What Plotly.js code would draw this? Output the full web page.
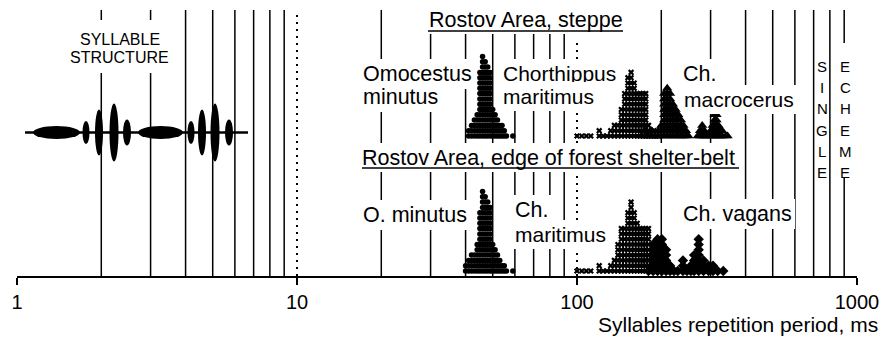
<!DOCTYPE html>
<html><head><meta charset="utf-8">
<script src="https://cdn.plot.ly/plotly-3.0.1.min.js"></script>
<style>html,body{margin:0;padding:0;background:#fff}#chart{width:882px;height:341px}</style>
</head><body><div id="chart"></div>
<script>
// ---------------- data ----------------
const tickVals = [1, 10, 100, 1000];
const tickText = ['1', '10', '100', '1000'];
const solidLines = [2, 3, 4, 5, 6, 7, 8, 9, 20, 30, 40, 50, 60, 70, 80, 90, 200, 300, 400, 500, 600, 700, 800];
const dottedFull = [10];
const dottedLower = [100];
const echemeLine = [900];

// Rostov Area, steppe
const omoTopPeriod = [41, 42, 43, 44, 45, 46, 47, 48, 49, 50, 51, 52, 53, 54, 55, 56, 57, 58, 59];
const omoTopCount  = [2, 3, 4, 5, 13, 16, 15, 14, 13, 6, 5, 4, 3, 3, 2, 1, 0, 0, 1];
const marTopPeriod = [100, 104, 108, 112, 116, 120, 124, 128, 132, 136, 140, 144, 148, 152, 156, 160, 164, 168, 172, 176, 180, 184, 188, 192, 196];
const marTopCount  = [1, 1, 1, 1, 0, 2, 1, 1, 2, 3, 3, 6, 9, 12, 13, 11, 9, 9, 9, 9, 3, 2, 2, 1, 1];
const macPeriod = [170, 175, 180, 185, 190, 195, 200, 205, 210, 215, 220, 225, 230, 235, 240, 245, 250, 270, 275, 280, 285, 290, 295, 300, 305, 310, 315, 320, 325, 330, 340, 345];
const macCount  = [1, 2, 1, 2, 1, 2, 3, 9, 10, 9, 7, 6, 5, 4, 3, 2, 1, 1, 2, 3, 2, 1, 1, 2, 3, 5, 5, 3, 2, 2, 1, 1];

// Rostov Area, edge of forest shelter-belt
const omoBotPeriod = [40, 41, 42, 43, 44, 45, 46, 47, 48, 49, 50, 51, 52, 53, 54, 55, 56, 57, 58, 59];
const omoBotCount  = [2, 3, 4, 4, 6, 12, 16, 15, 14, 13, 6, 5, 4, 3, 2, 2, 1, 0, 0, 1];
const marBotPeriod = [100, 104, 108, 112, 116, 120, 124, 128, 132, 136, 140, 144, 148, 152, 156, 160, 164, 168, 172, 176, 180, 184, 188, 192, 196];
const marBotCount  = [1, 1, 1, 1, 0, 2, 1, 1, 2, 3, 6, 9, 9, 12, 14, 12, 10, 9, 9, 9, 9, 4, 2, 2, 1];
const vagPeriod = [180, 187, 194, 201, 208, 215, 222, 229, 239, 247, 255, 262, 272, 283, 295, 306, 318, 333];
const vagCount  = [1, 6, 7, 7, 5, 2, 1, 1, 3, 1, 2, 4, 7, 3, 2, 2, 1, 1];

const singleLetters = ['S', 'I', 'N', 'G', 'L', 'E'];
const echemeLetters = ['E', 'C', 'H', 'E', 'M', 'E'];

// syllable-structure sketch: [centre px, half-width px, half-height px]
const syllablePulses = [[56.5, 23.5, 6.5], [86, 3.5, 11.5], [99, 4, 23], [114, 4.5, 29], [127, 4, 13],
                        [160.5, 22.5, 6.5], [191, 3.5, 11.5], [202, 4, 23], [215, 4.5, 29], [229, 4, 13]];

// ---------------- geometry ----------------
const FONT = 'Liberation Sans, Arial, Helvetica, sans-serif';
const W = 882, H = 341, L = 17, R = 25, T = 10, B = 65;
const PW = W - L - R, PH = H - T - B, AXIS_PY = T + PH;
const px = v => (v - L) / PW;
const py = v => (AXIS_PY - v) / PH;
const yu = v => AXIS_PY - v;
const ROW = 5.3;
const TOP_BASE = yu(136), BOT_BASE = yu(271);

function stack(periods, counts, base) {
  const x = [], y = [];
  periods.forEach((p, i) => { for (let k = 0; k < counts[i]; k++) { x.push(p); y.push(base + k * ROW); } });
  return {x, y};
}
function markerTrace(periods, counts, base, symbol, size) {
  const s = stack(periods, counts, base);
  return {type: 'scatter', mode: 'markers', x: s.x, y: s.y, cliponaxis: false, hoverinfo: 'skip',
          marker: {symbol, size, color: '#000', line: {width: 0}}};
}
function vlines(vals, segs) {
  const x = [], y = [];
  vals.forEach(v => segs.forEach(s => { x.push(v, v, null); y.push(s[0], s[1], null); }));
  return {x, y};
}
const lineTop = yu(10);
const solid = vlines(solidLines, [[0, lineTop]]);
const ech = vlines(echemeLine, [[0, yu(178)], [yu(43), lineTop]]);
const dotA = vlines(dottedFull, [[0, lineTop]]);
const dotB = vlines(dottedLower, [[0, yu(43)]]);

const data = [
  {type: 'scatter', mode: 'lines', x: solid.x.concat(ech.x), y: solid.y.concat(ech.y), hoverinfo: 'skip',
   line: {color: '#000', width: 1.5}, connectgaps: false},
  {type: 'scatter', mode: 'lines', x: dotA.x.concat(dotB.x), y: dotA.y.concat(dotB.y), hoverinfo: 'skip',
   line: {color: '#000', width: 2, dash: '2px,5px'}, connectgaps: false},
  markerTrace(omoTopPeriod, omoTopCount, TOP_BASE, 'circle', 5.5),
  markerTrace(marTopPeriod, marTopCount, TOP_BASE, 'x', 5.5),
  markerTrace(macPeriod, macCount, TOP_BASE, 'triangle-up', 9),
  markerTrace(omoBotPeriod, omoBotCount, BOT_BASE, 'circle', 5.5),
  markerTrace(marBotPeriod, marBotCount, BOT_BASE, 'x', 5.5),
  markerTrace(vagPeriod, vagCount, BOT_BASE, 'diamond', 8)
];

// ---------------- shapes ----------------
const shapes = [];
function rectPx(x0, y0, x1, y1) {
  shapes.push({type: 'rect', xref: 'paper', yref: 'paper', x0: px(x0), x1: px(x1), y0: py(y1), y1: py(y0),
               fillcolor: '#fff', line: {width: 0}, layer: 'above'});
}
function hlinePx(x0, x1, y, w) {
  shapes.push({type: 'line', xref: 'paper', yref: 'paper', x0: px(x0), x1: px(x1), y0: py(y), y1: py(y),
               line: {color: '#000', width: w}, layer: 'above'});
}
rectPx(58, 20, 178, 73);      // SYLLABLE STRUCTURE
rectPx(425, 4, 627, 34);      // steppe title
rectPx(358, 143, 743, 172);   // shelter-belt title
hlinePx(428, 623, 31, 1.5);
hlinePx(362, 739, 168, 1.5);
hlinePx(25, 248, 132.5, 2.5);
syllablePulses.forEach(p => {
  shapes.push({type: 'circle', xref: 'paper', yref: 'paper', x0: px(p[0] - p[1]), x1: px(p[0] + p[1]),
               y0: py(132.5 + p[2]), y1: py(132.5 - p[2]), fillcolor: '#000', line: {width: 0}, layer: 'above'});
});

// ---------------- annotations ----------------
const PAD = 3;
const annotations = [];
function label(text, left, base, size, bg) {
  annotations.push({text, xref: 'paper', yref: 'paper', x: px(left - (bg ? PAD : 0)), y: py(base - 0.3465 * size),
    xanchor: 'left', yanchor: 'middle', showarrow: false, font: {size, family: FONT, color: '#000'},
    bgcolor: bg ? '#fff' : 'rgba(0,0,0,0)', borderpad: bg ? PAD : 0, borderwidth: 0});
}
function centered(text, cx, cyCap, size) {
  annotations.push({text, xref: 'paper', yref: 'paper', x: px(cx), y: py(cyCap), xanchor: 'center', yanchor: 'middle',
    showarrow: false, font: {size, family: FONT, color: '#000'}, borderpad: 0, borderwidth: 0});
}
centered('SYLLABLE', 120, 39.5, 16);
centered('STRUCTURE', 119, 57.5, 16);
label('Rostov Area, steppe', 429, 27, 21.5, false);
label('Rostov Area, edge of forest shelter-belt', 362, 165, 21.5, false);
label('Omocestus', 363, 81, 21.5, true);
label('minutus', 363, 104, 21.5, true);
label('Chorthippus', 503, 81, 21, true);
label('maritimus', 503, 104, 21, true);
label('Ch.', 683, 81, 21.5, true);
label('macrocerus', 684, 107, 21, true);
label('O. minutus', 363, 222, 21.5, true);
label('Ch.', 515, 217, 21.5, true);
label('maritimus', 515, 242, 21, true);
label('Ch. vagans', 683, 221, 21.5, true);
singleLetters.forEach((c, i) => centered(c, 822, 66 + i * 21.4, 15));
echemeLetters.forEach((c, i) => centered(c, 845, 66 + i * 21.4, 15));
annotations.push({text: 'Syllables repetition period, ms', xref: 'paper', yref: 'paper', x: px(880), y: py(324),
  xanchor: 'right', yanchor: 'middle', showarrow: false, font: {size: 21, family: FONT, color: '#000'}});

const layout = {
  width: W, height: H, margin: {l: L, r: R, t: T, b: B, pad: 0}, autosize: false,
  paper_bgcolor: '#fff', plot_bgcolor: '#fff', showlegend: false,
  font: {family: FONT, color: '#000'},
  xaxis: {type: 'log', range: [0, 3], tickmode: 'array', tickvals: tickVals, ticktext: tickText,
          ticks: 'outside', ticklen: 7, tickwidth: 1.5, tickcolor: '#000', showline: true, linewidth: 1.8,
          linecolor: '#000', showgrid: false, zeroline: false, tickfont: {size: 20, family: FONT, color: '#000'},
          fixedrange: true},
  yaxis: {range: [0, PH], visible: false, fixedrange: true, showgrid: false, zeroline: false},
  shapes, annotations
};
Plotly.newPlot('chart', data, layout, {staticPlot: true, displayModeBar: false});
</script>
</body></html>
